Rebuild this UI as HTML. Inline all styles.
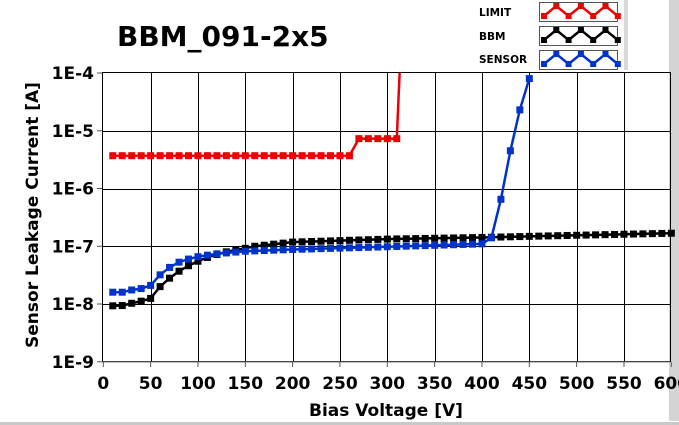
<!DOCTYPE html>
<html><head><style>
body{margin:0;background:#fff;}
svg{display:block;font-family:"DejaVu Sans","Liberation Sans",sans-serif;font-weight:bold;}
</style></head><body>
<svg id="s" width="679" height="425" viewBox="0 0 679 425" xmlns="http://www.w3.org/2000/svg">
<rect width="679" height="425" fill="#fff"/>
<rect x="669" y="0" width="10" height="421" fill="#d4d4d4"/>
<rect x="0" y="422" width="679" height="3" fill="#c8c8c8"/>
<rect x="624" y="0" width="4" height="70" fill="#d8d8d8"/>
<text x="117" y="46" font-size="28">BBM_091-2x5</text>
<g font-size="10.5" font-weight="bold">
<text x="479" y="16">LIMIT</text>
<text x="479" y="40">BBM</text>
<text x="479" y="63">SENSOR</text>
</g>
<g fill="#fff" stroke="#555" stroke-width="1">
<rect x="539.5" y="2.5" width="78" height="19"/>
<rect x="539.5" y="26.5" width="78" height="19"/>
<rect x="539.5" y="50.5" width="78" height="19"/>
</g>
<g id="grid" stroke="#000" stroke-width="1"></g>
<rect x="102.5" y="72.5" width="568" height="289" fill="none" stroke="#000"/>
<line x1="102" y1="362" x2="670" y2="362" stroke="#888"/>
<g id="ticks" font-size="17" fill="#000"></g>
<g id="series"></g>
<text font-size="17" transform="translate(38,215) rotate(-90)" text-anchor="middle">Sensor Leakage Current [A]</text>
<text x="386" y="416" font-size="17" text-anchor="middle">Bias Voltage [V]</text>
</svg>
<script>
const NS="http://www.w3.org/2000/svg";
const X=v=>103.3+v*0.9467, Y=c=>73+(-4-Math.log10(c))*57.75;
function el(p,t,a,txt){const e=document.createElementNS(NS,t);for(const k in a)e.setAttribute(k,a[k]);if(txt)e.textContent=txt;document.getElementById(p).appendChild(e);return e;}
for(let v=50;v<=550;v+=50){const x=Math.round(X(v))+0.5;el("grid","line",{x1:x,y1:73,x2:x,y2:362});}
for(let d=5;d<=8;d++){const y=Math.round(Y(Math.pow(10,-d)))+0.5;el("grid","line",{x1:102,y1:y,x2:670,y2:y});}
for(let v=0;v<=600;v+=50){const x=X(v);el("ticks","line",{x1:x,y1:362,x2:x,y2:367,stroke:"#555"});el("ticks","text",{x:x,y:389,"text-anchor":"middle"},String(v));}
for(let d=4;d<=9;d++){const y=Y(Math.pow(10,-d));el("ticks","line",{x1:97,y1:y,x2:102,y2:y,stroke:"#555"});el("ticks","text",{x:94,y:y+6,"text-anchor":"end"},"1E-"+d);}
function interp(pts,v){for(let i=0;i<pts.length-1;i++){const[a,ya]=pts[i],[b,yb]=pts[i+1];if(v>=a&&v<=b){const t=(v-a)/(b-a);return Math.pow(10,Math.log10(ya)+t*(Math.log10(yb)-Math.log10(ya)));}}return pts[pts.length-1][1];}
function series(data,col){let d="";data.forEach(([v,c],i)=>{d+=(i?"L":"M")+X(v).toFixed(1)+","+Y(c).toFixed(1);});
el("series","path",{d:d,fill:"none",stroke:col,"stroke-width":2.5});
data.forEach(([v,c])=>{const y=Y(c);if(y<70)return;el("series","rect",{x:X(v)-3.5,y:y-3.5,width:7,height:7,fill:col});});}
const bk=[[10,9.3e-9],[20,9.4e-9],[30,1.03e-8],[40,1.12e-8],[50,1.25e-8],[60,2e-8],[70,2.8e-8],[80,3.7e-8],[90,4.6e-8],[100,5.5e-8],[110,6.4e-8],[120,7.2e-8],[130,8e-8],[140,8.6e-8],[150,9.2e-8],[160,1e-7],[200,1.18e-7],[300,1.33e-7],[400,1.42e-7],[500,1.55e-7],[600,1.68e-7]];
let B=[];for(let v=10;v<=600;v+=10)B.push([v,interp(bk,v)]);series(B,"#000");
const bl=[[10,1.6e-8],[20,1.6e-8],[30,1.75e-8],[40,1.85e-8],[50,2.1e-8],[60,3.2e-8],[70,4.3e-8],[80,5.3e-8],[90,6e-8],[100,6.6e-8],[110,7e-8],[120,7.4e-8],[150,8.2e-8],[200,8.8e-8],[300,9.8e-8],[400,1.1e-7]];
let S=[];for(let v=10;v<=400;v+=10)S.push([v,interp(bl,v)]);
S.push([410,1.4e-7],[420,6.5e-7],[430,4.5e-6],[440,2.3e-5],[450,8e-5]);series(S,"#0033cc");
let R=[];for(let v=10;v<=260;v+=10)R.push([v,3.7e-6]);for(let v=270;v<=310;v+=10)R.push([v,7.3e-6]);
series(R,"#ee0000");el("series","path",{d:`M${X(310)},${Y(7.3e-6)}L${X(313)},73`,stroke:"#ee0000","stroke-width":2.5,fill:"none"});
function sw(y0,col){let d="",pts=[];for(let i=0;i<7;i++){const x=544+i*12.3,y=y0+(i%2?4:14);pts.push([x,y]);d+=(i?"L":"M")+x+","+y;}
el("series","path",{d:d,fill:"none",stroke:col,"stroke-width":2.5});pts.forEach(([x,y])=>el("series","rect",{x:x-3,y:y-3,width:6,height:6,fill:col}));}
sw(2,"#ee0000");sw(26,"#000");sw(50,"#0033cc");
</script>
</body></html>
